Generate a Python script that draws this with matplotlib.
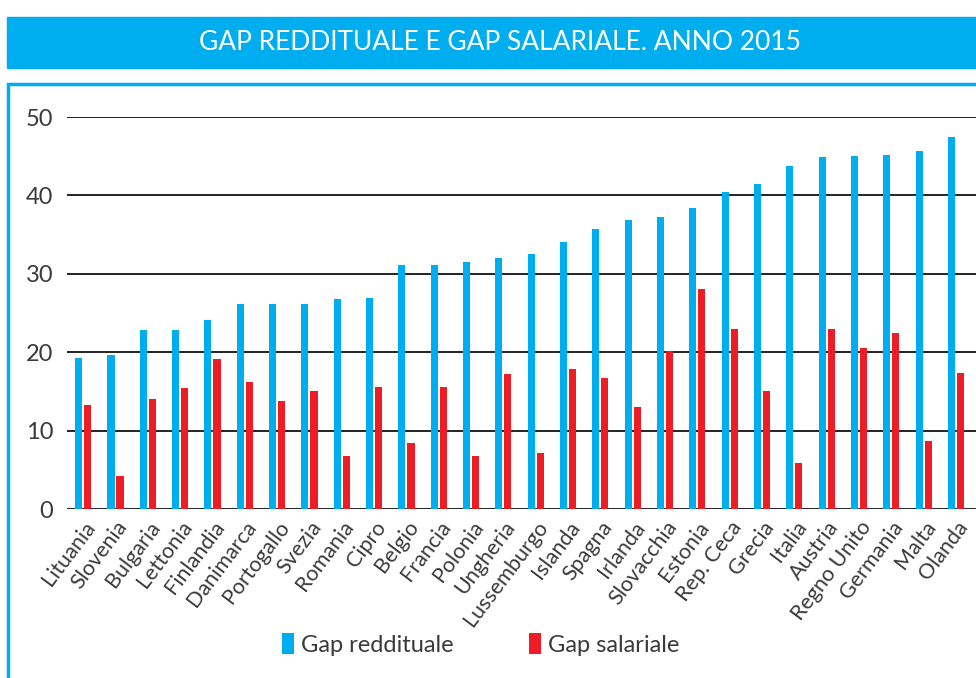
import matplotlib.pyplot as plt
import numpy as np
from matplotlib.patches import Rectangle

paesi = ["Lituania", "Slovenia", "Bulgaria", "Lettonia", "Finlandia", "Danimarca",
         "Portogallo", "Svezia", "Romania", "Cipro", "Belgio", "Francia", "Polonia",
         "Ungheria", "Lussemburgo", "Islanda", "Spagna", "Irlanda", "Slovacchia",
         "Estonia", "Rep. Ceca", "Grecia", "Italia", "Austria", "Regno Unito",
         "Germania", "Malta", "Olanda"]
gap_reddituale = [19.2, 19.6, 22.8, 22.8, 24.1, 26.1, 26.1, 26.2, 26.8, 26.9, 31.1, 31.1,
                  31.5, 32.0, 32.5, 34.0, 35.7, 36.8, 37.3, 38.4, 40.4, 41.4, 43.7, 44.9,
                  45.0, 45.2, 45.6, 47.5]
gap_salariale = [13.3, 4.2, 14.0, 15.4, 19.1, 16.2, 13.8, 15.0, 6.8, 15.6, 8.4, 15.6,
                 6.7, 17.2, 7.1, 17.8, 16.7, 13.0, 20.1, 28.1, 22.9, 15.0, 5.9, 23.0,
                 20.5, 22.4, 8.7, 17.3]
yticks = [0, 10, 20, 30, 40, 50]

BLU = "#00AEEF"
ROSSO = "#EE1C25"
TESTO = "#3a3a3a"

plt.rcParams['font.family'] = ['Lato', 'DejaVu Sans']

fig = plt.figure(figsize=(9.76, 6.78), dpi=100)

# banner del titolo
fig.patches.append(Rectangle((7 / 976, 1 - 68 / 678), 1, 51 / 678, transform=fig.transFigure,
                             color=BLU, zorder=0))
fig.text(500 / 976, 1 - 42 / 678, "GAP REDDITUALE E GAP SALARIALE. ANNO 2015",
         color="white", fontsize=19, ha="center", va="center")

# cornice
fig.patches.append(Rectangle((8 / 976, -0.05), 1.2, (678 - 84) / 678 + 0.05,
                             transform=fig.transFigure, fill=False, edgecolor=BLU,
                             linewidth=2.5, zorder=0))

ax = fig.add_axes([67 / 976, 1 - 509 / 678, (976 - 67) / 976, (509 - 117) / 678])
x = np.arange(len(paesi))
w = 0.22
ax.bar(x - w / 2 - 0.03, gap_reddituale, w, color=BLU, label="Gap reddituale", zorder=3)
ax.bar(x + w / 2 + 0.03, gap_salariale, w, color=ROSSO, label="Gap salariale", zorder=3)

ax.set_ylim(0, 50)
ax.set_xlim(-0.5, len(paesi) - 0.38)
ax.set_yticks(yticks)
ax.yaxis.grid(True, color="#222222", linewidth=1.4, zorder=1)
ax.set_axisbelow(True)
for s in ax.spines.values():
    s.set_visible(False)
ax.tick_params(axis="both", length=0, labelcolor=TESTO)
ax.tick_params(axis="y", labelsize=17, pad=10)
ax.set_xticks(x)
ax.set_xticklabels(paesi, rotation=53, ha="right", rotation_mode="anchor",
                   fontsize=15.5, color=TESTO)
ax.tick_params(axis="x", pad=6)

ax.legend(loc="center", bbox_to_anchor=(0.455, -0.345), ncol=2, frameon=False,
          fontsize=17, handlelength=0.5, handleheight=1.0, handletextpad=0.3,
          columnspacing=3.2, labelcolor=TESTO)

fig.savefig("out.png", dpi=100)
